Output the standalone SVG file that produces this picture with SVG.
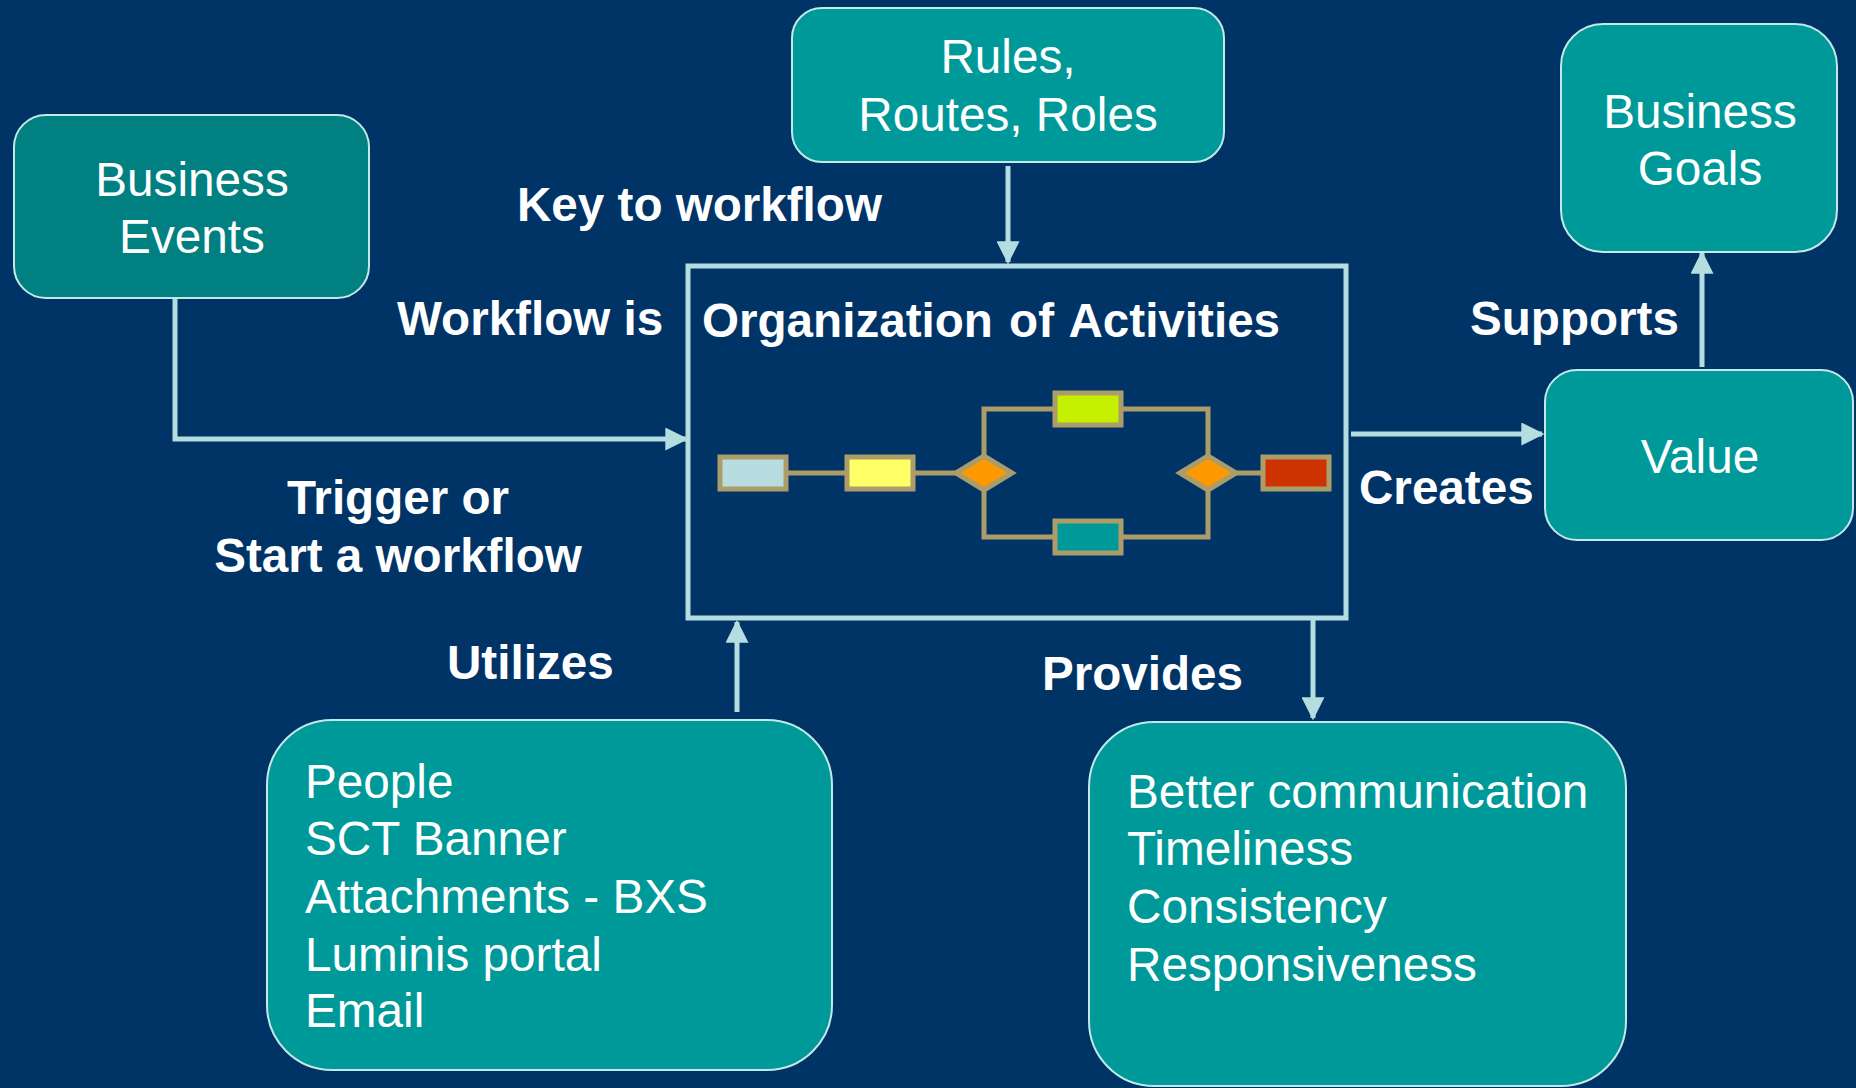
<svg xmlns="http://www.w3.org/2000/svg" width="1856" height="1088" viewBox="0 0 1856 1088">
<defs>
<style>
.box{fill:#009999;stroke:#c4e8e8;stroke-width:2}
.t{font-family:"Liberation Sans",Arial,sans-serif;font-size:47.7px;fill:#ffffff}
.b{font-family:"Liberation Sans",Arial,sans-serif;font-size:47.6px;font-weight:bold;fill:#ffffff}
.c{fill:none;stroke:#b4dde0;stroke-width:5}
.fl{fill:none;stroke:#ab9d69;stroke-width:5}
.act{stroke:#ab9d69;stroke-width:5}
</style>
<marker id="ah" viewBox="0 0 10 10" refX="9" refY="5" markerWidth="4.6" markerHeight="4.6" orient="auto" markerUnits="strokeWidth">
<path d="M0,0 L10,5 L0,10 z" fill="#b4dde0"/>
</marker>
</defs>
<rect width="1856" height="1088" fill="#003366"/>

<g id="connectors">
<polyline class="c" points="175,298 175,439 686,439" marker-end="url(#ah)"/>
<line class="c" x1="1008" y1="166" x2="1008" y2="262" marker-end="url(#ah)"/>
<line class="c" x1="737" y1="712" x2="737" y2="622" marker-end="url(#ah)"/>
<line class="c" x1="1313" y1="620" x2="1313" y2="718" marker-end="url(#ah)"/>
<line class="c" x1="1351" y1="434" x2="1542" y2="434" marker-end="url(#ah)"/>
<line class="c" x1="1702" y1="367" x2="1702" y2="253" marker-end="url(#ah)"/>
</g>

<g id="business-events">
<rect class="box" x="14" y="115" width="355" height="183" rx="32" style="fill:#008080"/>
<text class="t" x="192" y="196" text-anchor="middle">Business</text>
<text class="t" x="192" y="253" text-anchor="middle">Events</text>
</g>

<g id="rules">
<rect class="box" x="792" y="8" width="432" height="154" rx="30"/>
<text class="t" x="1008" y="73" text-anchor="middle">Rules,</text>
<text class="t" x="1008" y="131" text-anchor="middle">Routes, Roles</text>
</g>

<g id="business-goals">
<rect class="box" x="1561" y="24" width="276" height="228" rx="42"/>
<text class="t" x="1700" y="128" text-anchor="middle">Business</text>
<text class="t" x="1700" y="185" text-anchor="middle">Goals</text>
</g>

<g id="value">
<rect class="box" x="1545" y="370" width="308" height="170" rx="32"/>
<text class="t" x="1700" y="473" text-anchor="middle">Value</text>
</g>

<g id="organization">
<rect x="688" y="266" width="658" height="352" fill="#003366" stroke="#b4dde0" stroke-width="5"/>
<text class="b" x="702" y="337" word-spacing="3">Organization of Activities</text>
<polyline class="fl" points="786,473 847,473"/>
<polyline class="fl" points="914,473 956,473"/>
<polyline class="fl" points="984,456 984,409 1055,409"/>
<polyline class="fl" points="1121,409 1208,409 1208,456"/>
<polyline class="fl" points="984,490 984,537 1055,537"/>
<polyline class="fl" points="1121,537 1208,537 1208,490"/>
<polyline class="fl" points="1236,473 1263,473"/>
<rect class="act" x="720" y="457" width="66" height="32" fill="#b8dde0"/>
<rect class="act" x="847" y="457" width="66" height="32" fill="#ffff66"/>
<rect class="act" x="1055" y="393" width="66" height="32" fill="#c4f000"/>
<rect class="act" x="1055" y="521" width="66" height="32" fill="#009999"/>
<rect class="act" x="1263" y="457" width="66" height="32" fill="#cc3300"/>
<polygon class="act" points="956,473 984,456 1012,473 984,490" fill="#ff9900"/>
<polygon class="act" points="1180,473 1208,456 1236,473 1208,490" fill="#ff9900"/>
</g>

<g id="labels">
<text class="b" x="517" y="221">Key to workflow</text>
<text class="b" x="397" y="335">Workflow is</text>
<text class="b" x="398" y="514" text-anchor="middle">Trigger or</text>
<text class="b" x="398" y="572" text-anchor="middle">Start a workflow</text>
<text class="b" x="447" y="679">Utilizes</text>
<text class="b" x="1042" y="690">Provides</text>
<text class="b" x="1470" y="335">Supports</text>
<text class="b" x="1359" y="504">Creates</text>
</g>

<g id="utilizes">
<rect class="box" x="267" y="720" width="565" height="350" rx="65"/>
<text class="t" x="305" y="798">People</text>
<text class="t" x="305" y="855">SCT Banner</text>
<text class="t" x="305" y="913">Attachments - BXS</text>
<text class="t" x="305" y="971">Luminis portal</text>
<text class="t" x="305" y="1027">Email</text>
</g>

<g id="provides">
<rect class="box" x="1089" y="722" width="537" height="364" rx="65"/>
<text class="t" x="1127" y="808">Better communication</text>
<text class="t" x="1127" y="865">Timeliness</text>
<text class="t" x="1127" y="923">Consistency</text>
<text class="t" x="1127" y="981">Responsiveness</text>
</g>
</svg>
